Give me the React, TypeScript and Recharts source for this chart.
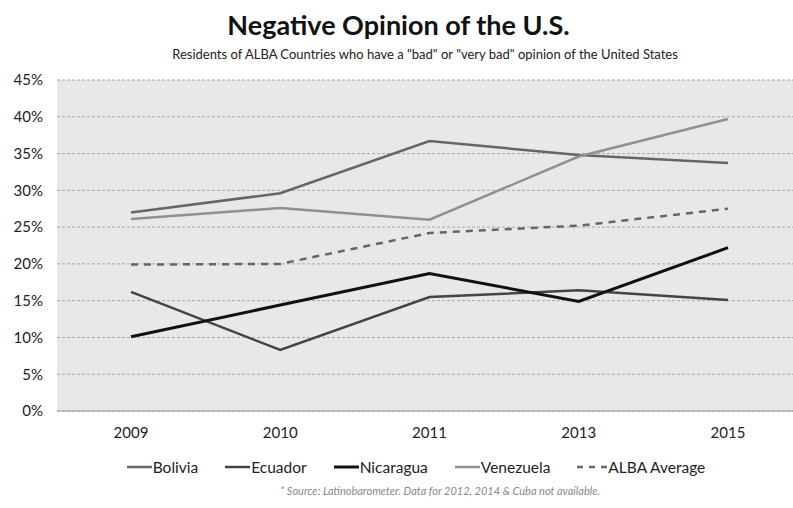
import React from 'react';
import { LineChart, Line, XAxis, YAxis, CartesianGrid } from 'recharts';

const years = ['2009', '2010', '2011', '2013', '2015'];
const bolivia = [27.0, 29.6, 36.7, 34.8, 33.7];
const ecuador = [16.2, 8.3, 15.5, 16.4, 15.1];
const nicaragua = [10.1, 14.4, 18.7, 14.9, 22.2];
const venezuela = [26.1, 27.6, 26.0, 34.6, 39.7];
const albaAverage = [19.9, 20.0, 24.2, 25.2, 27.5];
const yTicks = [0, 5, 10, 15, 20, 25, 30, 35, 40, 45];

const data = years.map((y, i) => ({
  year: y,
  Bolivia: bolivia[i],
  Ecuador: ecuador[i],
  Nicaragua: nicaragua[i],
  Venezuela: venezuela[i],
  'ALBA Average': albaAverage[i],
}));

const series = [
  { key: 'Bolivia', color: '#666666', width: 2.5, dash: undefined as string | undefined },
  { key: 'Ecuador', color: '#444444', width: 2.5, dash: undefined },
  { key: 'Nicaragua', color: '#111111', width: 3, dash: undefined },
  { key: 'Venezuela', color: '#909090', width: 2.5, dash: undefined },
  { key: 'ALBA Average', color: '#666666', width: 2.5, dash: '7 6' },
];

const FONT = 'Lato, "Open Sans", sans-serif';

const LegendBox = () => (
  <div style={{ position: 'absolute', top: 458, left: 0, width: 832, display: 'flex', justifyContent: 'center', gap: 27, fontFamily: FONT, fontSize: 15.5, color: '#222' }}>
    {series.map((s) => (
      <div key={s.key} style={{ display: 'flex', alignItems: 'center' }}>
        <svg width={s.dash ? 30 : 25} height={10}>
          <line x1={0} y1={5} x2={s.dash ? 30 : 25} y2={5} stroke={s.color} strokeWidth={s.width} strokeDasharray={s.dash ? '6 6' : undefined} />
        </svg>
        <span style={{ marginLeft: 1 }}>{s.key}</span>
      </div>
    ))}
  </div>
);

export default function App() {
  return (
    <div style={{ position: 'absolute', left: 0, top: 0, width: 793, height: 508, background: '#fff', fontFamily: FONT }}>
      <div style={{ position: 'absolute', top: 8, left: 0, width: 797, textAlign: 'center', fontSize: 27, fontWeight: 700, color: '#111' }}>
        Negative Opinion of the U.S.
      </div>
      <div style={{ position: 'absolute', top: 46, left: 0, width: 850, textAlign: 'center', fontSize: 13, color: '#222' }}>
        Residents of ALBA Countries who have a "bad" or "very bad" opinion of the United States
      </div>
      <LineChart width={793} height={508} data={data} margin={{ top: 80, right: 0, bottom: 67, left: 0 }}>
        <CartesianGrid vertical={false} stroke="#a8a8a8" strokeDasharray="3 2" fill="#e8e8e8" />
        <XAxis
          dataKey="year"
          height={30}
          padding={{ left: 74, right: 65 }}
          tickLine={false}
          axisLine={{ stroke: '#999' }}
          tickMargin={10}
          tick={{ fill: '#222', fontSize: 15, fontFamily: FONT }}
        />
        <YAxis
          width={57}
          domain={[0, 45]}
          ticks={yTicks}
          tickFormatter={(v: number) => `${v}%`}
          axisLine={false}
          tickLine={false}
          tickMargin={8}
          tick={{ fill: '#222', fontSize: 15, fontFamily: FONT }}
        />
        {series.map((s) => (
          <Line
            key={s.key}
            dataKey={s.key}
            type="linear"
            stroke={s.color}
            strokeWidth={s.width}
            strokeDasharray={s.dash}
            dot={false}
            activeDot={false}
            isAnimationActive={false}
          />
        ))}
      </LineChart>
      <LegendBox />
      <div style={{ position: 'absolute', top: 484, left: 0, width: 880, textAlign: 'center', fontSize: 11, fontStyle: 'italic', color: '#888' }}>
        * Source: Latinobarometer. Data for 2012, 2014 &amp; Cuba not available.
      </div>
    </div>
  );
}
